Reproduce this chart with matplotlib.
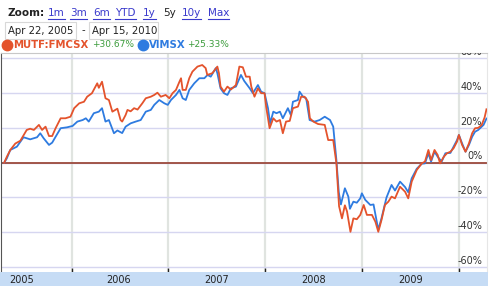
import numpy as np
import pandas as pd
import matplotlib
matplotlib.use('Agg')
import matplotlib.pyplot as plt
import matplotlib.dates as mdates
from matplotlib.lines import Line2D
from matplotlib.patches import Rectangle
from matplotlib.transforms import blended_transform_factory

# MUTF:FMCSX, % change since Apr 22, 2005
fmcsx_dates = [
    '2005-04-22', '2005-05-02', '2005-05-15', '2005-06-03', '2005-06-22', '2005-07-16', '2005-07-29',
    '2005-08-12', '2005-08-31', '2005-09-12', '2005-09-25', '2005-10-08', '2005-10-20', '2005-11-02',
    '2005-11-21', '2005-12-09', '2005-12-28',
    '2006-01-11', '2006-01-30', '2006-02-17', '2006-03-01', '2006-03-19', '2006-04-08', '2006-04-14',
    '2006-04-26', '2006-05-09', '2006-05-22', '2006-06-04', '2006-06-23', '2006-07-05', '2006-07-11',
    '2006-07-24', '2006-07-31', '2006-08-12', '2006-08-25', '2006-09-07', '2006-09-25', '2006-10-08',
    '2006-10-27', '2006-11-09', '2006-11-21', '2006-12-04', '2006-12-22',
    '2007-01-05', '2007-01-17', '2007-01-30', '2007-02-12', '2007-02-18', '2007-02-24', '2007-03-08',
    '2007-03-21', '2007-04-02', '2007-04-21', '2007-05-09', '2007-05-22', '2007-05-28', '2007-06-16',
    '2007-07-05', '2007-07-11', '2007-07-17', '2007-07-30', '2007-08-12', '2007-08-25', '2007-09-13',
    '2007-09-26', '2007-10-09', '2007-10-21', '2007-11-04', '2007-11-10', '2007-11-22', '2007-12-05',
    '2007-12-17', '2007-12-30',
    '2008-01-05', '2008-01-18', '2008-02-01', '2008-02-13', '2008-02-26', '2008-03-08', '2008-03-20',
    '2008-04-03', '2008-04-15', '2008-05-04', '2008-05-16', '2008-05-29', '2008-06-11', '2008-06-18',
    '2008-07-01', '2008-07-19', '2008-08-13', '2008-08-26', '2008-09-14', '2008-09-26', '2008-10-06',
    '2008-10-17', '2008-10-28', '2008-11-05', '2008-11-18', '2008-11-29', '2008-12-12', '2008-12-25',
    '2009-01-07', '2009-01-19', '2009-02-07', '2009-02-20', '2009-03-03', '2009-03-15', '2009-03-28',
    '2009-04-10', '2009-04-22', '2009-05-05', '2009-05-24', '2009-06-12', '2009-06-24', '2009-07-07',
    '2009-07-26', '2009-08-14', '2009-08-26', '2009-09-08', '2009-09-18', '2009-10-01', '2009-10-13',
    '2009-10-22', '2009-11-05', '2009-11-17', '2009-11-30', '2009-12-12', '2009-12-25',
    '2010-01-01', '2010-01-13', '2010-01-26', '2010-02-08', '2010-02-20', '2010-03-03', '2010-03-15',
    '2010-03-28', '2010-04-08', '2010-04-15',
]
fmcsx_pct = [
    0, 3.4, 7.3, 11, 12.6, 18.8, 19.5, 18.8, 21.7, 18.8, 20.7, 15.3, 15.3, 19.8, 25.5, 25.5, 26.4,
    31.3, 34.1, 35, 37.9, 39.9, 45.6, 43, 46.5, 37, 36, 29.3, 31, 24.5, 23.6, 27.4, 30.3, 29.5, 31.3,
    30.5, 34.1, 37, 37.9, 38.9, 40.2, 37.9, 38.9,
    37, 39.9, 41.8, 46.5, 48.5, 41.8, 41.8, 48.5, 52.3, 55.2, 56.1, 54.3, 50.4, 51.4, 55.2, 51.4,
    43.7, 40.8, 43.7, 42, 44.6, 55.2, 54.8, 49.4, 49.4, 43.7, 37.9, 42.7, 39.9, 39.9,
    32.2, 19.8, 25.5, 23.6, 24.5, 16.9, 23.6, 24, 31.3, 32.2, 37.9, 37.9, 35, 25.5, 23.6, 22.2,
    21.7, 13, 13, -0.4, -25, -32, -24.5, -28, -39.7, -32, -32.5, -30,
    -24.3, -30, -30, -33.9, -39.7, -33, -24.3, -22.4, -19.5, -20.5, -13.8, -16.7, -20.5, -10.9,
    -4.2, -0.4, 0.6, 7.3, 1.5, 7.3, 4.4, -0.4, 3.4, 5.4, 6.3, 8.3, 12.1,
    15.9, 10.2, 6.3, 11.1, 16.9, 19.8, 20, 21.7, 26, 30.67,
]

# VIMSX
vimsx_dates = [
    '2005-04-22', '2005-05-02', '2005-05-15', '2005-06-09', '2005-07-04', '2005-07-29', '2005-08-24',
    '2005-09-05', '2005-09-18', '2005-10-08', '2005-10-20', '2005-11-02', '2005-11-21', '2005-12-15',
    '2006-01-05', '2006-01-23', '2006-02-12', '2006-02-24', '2006-03-07', '2006-03-26', '2006-04-14',
    '2006-04-26', '2006-05-09', '2006-05-22', '2006-06-10', '2006-06-23', '2006-07-11', '2006-07-24',
    '2006-08-12', '2006-08-31', '2006-09-19', '2006-10-08', '2006-10-27', '2006-11-09', '2006-11-28',
    '2006-12-17', '2006-12-30',
    '2007-01-11', '2007-01-30', '2007-02-12', '2007-02-24', '2007-03-08', '2007-03-21', '2007-04-09',
    '2007-04-28', '2007-05-17', '2007-05-29', '2007-06-10', '2007-06-29', '2007-07-05', '2007-07-17',
    '2007-07-30', '2007-08-12', '2007-08-25', '2007-09-13', '2007-10-02', '2007-10-14', '2007-11-04',
    '2007-11-16', '2007-12-05', '2007-12-17', '2007-12-30',
    '2008-01-12', '2008-01-20', '2008-02-01', '2008-02-13', '2008-02-26', '2008-03-08', '2008-03-27',
    '2008-04-07', '2008-04-15', '2008-05-04', '2008-05-10', '2008-05-23', '2008-06-04', '2008-06-17',
    '2008-07-06', '2008-07-25', '2008-08-13', '2008-09-02', '2008-09-14', '2008-09-26', '2008-10-05',
    '2008-10-13', '2008-10-28', '2008-11-10', '2008-11-16', '2008-11-29', '2008-12-12', '2008-12-25',
    '2008-12-31',
    '2009-01-13', '2009-02-01', '2009-02-13', '2009-03-03', '2009-03-15', '2009-04-03', '2009-04-22',
    '2009-05-05', '2009-05-24', '2009-06-12', '2009-06-24', '2009-07-07', '2009-07-26', '2009-08-14',
    '2009-08-26', '2009-09-08', '2009-09-18', '2009-10-01', '2009-10-13', '2009-10-28', '2009-11-11',
    '2009-11-30', '2009-12-12', '2009-12-25',
    '2010-01-01', '2010-01-13', '2010-01-26', '2010-02-08', '2010-02-20', '2010-03-03', '2010-03-15',
    '2010-04-04', '2010-04-15',
]
vimsx_pct = [
    0, 2.5, 7.3, 9.2, 14.6, 13.4, 14.6, 16.9, 14, 10.2, 11.5, 14.9, 19.8, 20.3,
    21.1, 23.6, 24.5, 25.5, 23.6, 28.4, 29.3, 31.3, 23.6, 24.5, 16.9, 18.5, 17, 20.7, 22.6, 23.6,
    24.5, 29.3, 30.3, 33.2, 36, 34.1, 33.2,
    36, 38.9, 41.8, 37, 36, 41.8, 45.6, 48.5, 48.5, 50.4, 49.4, 54.3, 51.4, 42.7, 39.9, 38.9, 42.7,
    43.7, 50.4, 47, 42.7, 39.9, 44.6, 40.8, 39.9,
    31.3, 22.6, 29.3, 28.4, 29.3, 25.5, 31.3, 27.4, 35, 36, 40.8, 37.9, 37, 24.5, 23.6, 24.5, 26.4,
    24.5, 20.7, 1.5, -17, -24, -14.7, -19.5, -26.5, -22.4, -23, -20.5, -17.6,
    -21.4, -24.3, -24, -38.5, -32, -20, -12.8, -16, -10.9, -14, -17, -9, -3.5, -0.6, -0.4, 5.4, 0.6,
    6.3, 3.4, 0.6, 5.4, 5.6, 9.2, 13,
    15.9, 11.1, 6.3, 10.2, 14.9, 17.8, 18.8, 21.7, 25.33,
]

y_ticks = [-60, -40, -20, 0, 20, 40, 60]
year_labels = ['2005', '2006', '2007', '2008', '2009']
zoom_links = ['1m', '3m', '6m', 'YTD', '1y', '5y', '10y', 'Max']
active_link = '5y'

RED = '#e4532c'
BLUE = '#2e7be0'
GREEN = '#3c9c3c'
LINK = '#3a3acc'

W, H = 490, 286


def fx(x):
    return x / W


def fy(y):
    return 1 - y / H


fig = plt.figure(figsize=(W / 100, H / 100), dpi=100)
fig.patch.set_facecolor('white')

# main plot area
ax = fig.add_axes([fx(1), (H - 272) / H, 486 / W, (272 - 53) / H])
d_red = pd.to_datetime(fmcsx_dates)
d_blue = pd.to_datetime(vimsx_dates)
ax.plot(d_blue, vimsx_pct, color=BLUE, lw=1.3, zorder=3)
ax.plot(d_red, fmcsx_pct, color=RED, lw=1.3, zorder=4)

xmin, xmax = pd.Timestamp('2005-04-10'), pd.Timestamp('2010-04-17')
ax.set_xlim(xmin, xmax)
ax.set_ylim(-62.8, 63)

year_starts = pd.to_datetime([f'{y}-01-01' for y in range(2006, 2011)])
ax.set_xticks(year_starts)
ax.set_yticks(y_ticks)
ax.tick_params(axis='x', direction='in', length=3, width=1, color='#222', labelbottom=False)
ax.tick_params(axis='y', length=0, labelleft=False)
ax.grid(axis='x', color='#e0e4e0', lw=1.6)
ax.grid(axis='y', color='#d6d6f0', lw=1.0)
ax.set_axisbelow(True)
ax.axhline(0, color='#9c4a3c', lw=1.3, zorder=2)

for s in ['bottom']:
    ax.spines[s].set_visible(False)
ax.spines['left'].set_color('#555')
ax.spines['top'].set_color('#c8c8c8')
ax.spines['right'].set_color('#e6e6e6')

tr = blended_transform_factory(ax.transAxes, ax.transData)
for v in y_ticks:
    ax.text(0.99, v + 0.7, f'{v}%', transform=tr, ha='right', va='bottom',
            fontsize=7, color='#333', clip_on=True, zorder=5)

# year band
band = fig.add_axes([0, 0, 488 / W, (H - 272) / H])
band.set_facecolor('#c6dcf5')
band.set_xlim(ax.get_xlim())
band.set_ylim(0, 1)
band.set_xticks([])
band.set_yticks([])
for s in band.spines.values():
    s.set_visible(False)
for lab in year_labels:
    band.text(pd.Timestamp(f'{lab}-07-01'), 0.45, lab, ha='center', va='center',
              fontsize=7, color='#222')

# header: zoom links
fig.text(fx(7), fy(13), 'Zoom:', fontsize=7.5, fontweight='bold', color='#222', va='center')
link_x = [48, 70, 93, 115, 143, 163, 182, 208]
fig.canvas.draw()
renderer = fig.canvas.get_renderer()
for name, x in zip(zoom_links, link_x):
    col = '#222' if name == active_link else LINK
    t = fig.text(fx(x), fy(13), name, fontsize=7.5, color=col, va='center')
    if name != active_link:
        bb = t.get_window_extent(renderer)
        fig.add_artist(Line2D([bb.x0 / W, bb.x1 / W], [fy(18.5), fy(18.5)],
                              transform=fig.transFigure, color=LINK, lw=0.8))

# date range boxes
for x0, x1, txt in [(5, 76, 'Apr 22, 2005'), (89, 158, 'Apr 15, 2010')]:
    fig.add_artist(Rectangle((fx(x0), fy(39)), fx(x1 - x0), (39 - 22) / H,
                             transform=fig.transFigure, facecolor='white',
                             edgecolor='#d8d8d8', lw=0.8))
    fig.text(fx(x0 + 3), fy(30.5), txt, fontsize=7.3, color='#222', va='center')
fig.text(fx(81), fy(30.5), '-', fontsize=7.3, color='#222', va='center')

# legend
fig.add_artist(Line2D([fx(7)], [fy(44.5)], marker='o', ms=7.5, color=RED,
                      transform=fig.transFigure))
fig.text(fx(13), fy(44.5), 'MUTF:FMCSX', fontsize=7.3, fontweight='bold', color=RED, va='center')
fig.text(fx(92), fy(45), '+30.67%', fontsize=6.5, color=GREEN, va='center')
fig.add_artist(Line2D([fx(143)], [fy(44.5)], marker='o', ms=7.5, color=BLUE,
                      transform=fig.transFigure))
fig.text(fx(149), fy(44.5), 'VIMSX', fontsize=7.3, fontweight='bold', color=BLUE, va='center')
fig.text(fx(187), fy(45), '+25.33%', fontsize=6.5, color=GREEN, va='center')

fig.savefig('out.png', dpi=100, facecolor='white')
